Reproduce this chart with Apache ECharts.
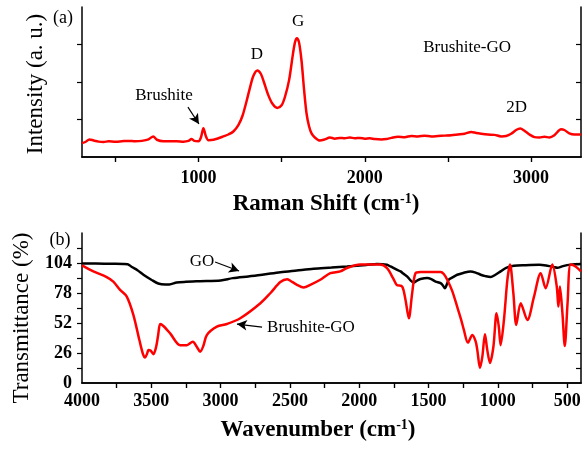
<!DOCTYPE html>
<html><head><meta charset="utf-8">
<script src="https://cdn.jsdelivr.net/npm/echarts@6/dist/echarts.min.js"></script>
<style>html,body{margin:0;padding:0;background:#fff}#c{width:582px;height:451px}</style>
</head><body><div id="c"></div>
<script>
// ---- (a) Raman spectrum, Brushite-GO ----
const ramanShift = [300,320,345,370,400,430,460,500,540,580,620,660,700,728,750,790,830,870,910,940,958,975,1000,1015,1030,1045,1060,1090,1120,1150,1180,1210,1240,1265,1290,1310,1330,1354,1375,1395,1420,1445,1474,1500,1520,1545,1565,1580,1592,1605,1620,1635,1650,1665,1680,1700,1730,1760,1790,1820,1850,1880,1910,1940,1970,2000,2030,2060,2100,2130,2160,2200,2240,2280,2320,2360,2400,2440,2480,2520,2560,2600,2640,2670,2700,2740,2780,2820,2850,2880,2910,2935,2960,2990,3020,3050,3080,3110,3140,3180,3200,3230,3260,3300];
const ramanIntensity = [0.37,0.40,0.47,0.44,0.41,0.40,0.42,0.41,0.42,0.43,0.42,0.43,0.47,0.55,0.46,0.42,0.42,0.42,0.41,0.43,0.48,0.43,0.42,0.52,0.77,0.55,0.45,0.46,0.50,0.55,0.60,0.68,0.85,1.10,1.50,1.85,2.16,2.31,2.22,1.98,1.65,1.42,1.31,1.38,1.60,2.05,2.65,3.05,3.17,3.05,2.56,1.80,1.16,0.82,0.63,0.52,0.44,0.47,0.52,0.49,0.51,0.50,0.52,0.50,0.51,0.49,0.50,0.48,0.47,0.48,0.51,0.54,0.53,0.56,0.55,0.57,0.55,0.56,0.57,0.58,0.60,0.62,0.67,0.64,0.62,0.60,0.59,0.55,0.56,0.62,0.72,0.76,0.70,0.60,0.53,0.52,0.54,0.52,0.58,0.74,0.72,0.63,0.60,0.60];
const ramanTicks = [500,1000,1500,2000,2500,3000];
const ramanTickLabels = [1000,2000,3000];
const ramanYTicks = [1,2,3];

// ---- (b) FTIR spectra ----
const goWavenumber = [4000,3900,3800,3700,3670,3640,3600,3557,3500,3450,3400,3370,3317,3250,3150,3000,2912,2800,2700,2569,2450,2329,2200,2088,1950,1871,1800,1775,1730,1702,1680,1655,1630,1607,1580,1558,1510,1480,1449,1413,1395,1382,1365,1354,1320,1293,1250,1197,1160,1124,1090,1052,1020,980,940,884,800,700,643,600,571,530,475,430,400];
const goTransmittance = [103.5,103.5,103.3,103.2,103,100.5,97.7,93.8,89.5,86.2,85.4,85.4,87.1,87.7,88.2,88.9,90.9,92.4,93.8,96,97.5,99,100,101,102.3,103.2,102.4,101,98.2,96.7,94.6,92.4,89,87.1,89,90.1,90.9,90,87.9,86.6,84.3,82.2,86.4,89.5,92,93.8,95.4,96.7,95.7,93.8,92.6,91.8,93.6,96.7,99.8,101.6,102.1,102.4,101.6,100.6,99.8,101.3,102.6,102.9,103.2];
const bgoWavenumber = [4000,3918,3822,3774,3725,3677,3629,3586,3560,3545,3530,3521,3504,3485,3465,3450,3436,3413,3364,3292,3244,3201,3170,3148,3125,3099,3027,2955,2858,2713,2640,2569,2520,2497,2449,2401,2353,2281,2208,2136,2088,1994,1850,1801,1756,1730,1690,1666,1642,1618,1594,1558,1413,1390,1365,1330,1293,1265,1245,1216,1184,1160,1148,1129,1112,1093,1076,1057,1032,1009,993,980,956,931,912,888,867,835,787,739,691,655,607,575,563,552,534,517,497,475,439,400];
const bgoTransmittance = [101.9,96.7,91.8,87.9,80.7,74.9,58.9,37.2,25,22.1,25.5,28.5,27.9,25,31.4,42,51.1,49.4,43,32.8,32.8,35.7,31,27.1,32,41.6,48.8,51.1,56.1,69.1,78,87.5,90,88.6,85.1,82.8,85.1,89.5,95.2,96.7,99.7,102.6,102.6,99.7,90.9,85.1,83.6,72,56.1,77.9,95.2,96.2,96.2,94.5,89.5,80,66,55,46,35,41.6,36,28.5,13.1,22.6,42.2,28.5,17.4,31.4,60.5,48.8,32.8,54.6,89.5,102.6,77.9,50.3,69.1,54.6,74.9,95.2,82.2,102.6,83.6,66.2,83.6,60.5,32,69.1,102.6,101,96.7];
const ftirTicks = [500,750,1000,1250,1500,1750,2000,2250,2500,2750,3000,3250,3500,3750];
const ftirTickLabels = [4000,3500,3000,2500,2000,1500,1000,500];
const ftirYTicks = [13,26,39,52,65,78,91,104,117];
const ftirYLabels = [0,26,52,78,104];

const FONT = '"Liberation Serif", "Times New Roman", serif';
const zip = (a, b) => a.map((v, i) => [v, b[i]]);

const chart = echarts.init(document.getElementById('c'), null, {renderer: 'canvas'});
const axLine = {show: true, lineStyle: {color: '#000', width: 1.5}};
const tickStyle = {color: '#000', width: 1.2};
const lblStyle = {color: '#000', fontFamily: FONT, fontWeight: 'bold', fontSize: 18, formatter: v => String(v)};

function xAx(grid, pos, min, max, inverse, ticks, labels, margin) {
  return {
    type: 'value', gridIndex: grid, position: pos, min: min, max: max, inverse: inverse,
    axisLine: axLine,
    axisTick: {show: true, customValues: ticks, inside: pos === 'top', length: 5, lineStyle: tickStyle},
    axisLabel: labels ? Object.assign({show: true, customValues: labels, margin: margin}, lblStyle) : {show: false},
    splitLine: {show: false}
  };
}
function yAx(grid, pos, min, max, ticks, labels) {
  return {
    type: 'value', gridIndex: grid, position: pos, min: min, max: max,
    axisLine: axLine,
    axisTick: {show: true, customValues: ticks, inside: pos === 'right', length: 5, lineStyle: tickStyle},
    axisLabel: labels ? Object.assign({show: true, customValues: labels, margin: 10}, lblStyle) : {show: false},
    splitLine: {show: false}
  };
}
const arrowLine = (pairs) => ({
  silent: true, symbol: ['none', 'arrow'], symbolSize: [8, 10], animation: false,
  lineStyle: {color: '#000', width: 1.2, type: 'solid'}, label: {show: false},
  emphasis: {disabled: true},
  data: pairs.map(p => [{coord: p[0]}, {coord: p[1]}])
});

chart.setOption({
  animation: false,
  backgroundColor: '#fff',
  grid: [
    {left: 82, top: 7, width: 499, height: 150, containLabel: false, outerBoundsMode: 'none'},
    {left: 82, top: 233, width: 499, height: 150, containLabel: false, outerBoundsMode: 'none'}
  ],
  xAxis: [
    xAx(0, 'bottom', 300, 3300, false, ramanTicks, ramanTickLabels, 12),
    xAx(0, 'top', 300, 3300, false, ramanTicks, null),
    xAx(1, 'bottom', 400, 4000, true, ftirTicks, ftirTickLabels, 9),
    xAx(1, 'top', 400, 4000, true, ftirTicks, null)
  ],
  yAxis: [
    yAx(0, 'left', 0, 4, ramanYTicks, null),
    yAx(0, 'right', 0, 4, ramanYTicks, null),
    yAx(1, 'left', 0, 130, ftirYTicks, ftirYLabels),
    yAx(1, 'right', 0, 130, ftirYTicks, null)
  ],
  series: [
    {type: 'line', name: 'Raman', xAxisIndex: 0, yAxisIndex: 0, data: zip(ramanShift, ramanIntensity),
     showSymbol: false, smooth: 0.3, lineStyle: {color: '#ff0000', width: 2.5},
     markLine: arrowLine([[[937, 1.33], [1003, 0.88]]])},
    {type: 'line', name: 'GO', xAxisIndex: 2, yAxisIndex: 2, data: zip(goWavenumber, goTransmittance),
     showSymbol: false, smooth: 0.3, lineStyle: {color: '#000', width: 2.5},
     markLine: arrowLine([[[3040, 104.9], [2867, 97.1]]])},
    {type: 'line', name: 'Brushite-GO', xAxisIndex: 2, yAxisIndex: 2, data: zip(bgoWavenumber, bgoTransmittance),
     showSymbol: false, smooth: 0.3, lineStyle: {color: '#ff0000', width: 2.5},
     markLine: arrowLine([[[2701, 48.5], [2882, 51.1]]])}
  ]
});

// annotations placed in data coordinates
const annotA = [['D', 1352, 2.72], ['G', 1599, 3.6], ['Brushite', 793, 1.65], ['Brushite-GO', 2615, 2.93], ['2D', 2913, 1.31]];
const annotB = [['GO', 3134, 104.9], ['Brushite-GO', 2348, 48.5]];
const g = [];
function txt(text, x, y, size, weight, rot, rich) {
  const el = {type: 'text', x: x, y: y, rotation: rot || 0, silent: true, z: 100,
    style: {text: text, fill: '#000', font: (weight || 'normal') + ' ' + size + 'px ' + FONT,
            textAlign: 'center', textVerticalAlign: 'middle'}};
  if (rich) el.style.rich = rich;
  return el;
}
annotA.forEach(a => { const p = chart.convertToPixel({xAxisIndex: 0, yAxisIndex: 0}, [a[1], a[2]]); g.push(txt(a[0], p[0], p[1], 17)); });
annotB.forEach(a => { const p = chart.convertToPixel({xAxisIndex: 2, yAxisIndex: 2}, [a[1], a[2]]); g.push(txt(a[0], p[0], p[1], 17)); });
g.push(txt('(a)', 63, 18, 18));
g.push(txt('(b)', 60, 240, 18));
g.push(txt('Intensity (a. u.)', 36, 84, 23, 'normal', Math.PI / 2));
g.push(txt('Transmittance (%)', 22, 318, 23, 'normal', Math.PI / 2));
const supRich = {
  b: {font: 'bold 23px ' + FONT, fill: '#000'},
  s: {font: 'bold 14px ' + FONT, fill: '#000', verticalAlign: 'top'}
};
g.push(txt('{b|Raman Shift (cm}{s|-1}{b|)}', 326, 204, 23, 'bold', 0, supRich));
g.push(txt('{b|Wavenumber (cm}{s|-1}{b|)}', 318, 430, 23, 'bold', 0, supRich));
chart.setOption({graphic: g});
</script></body></html>
